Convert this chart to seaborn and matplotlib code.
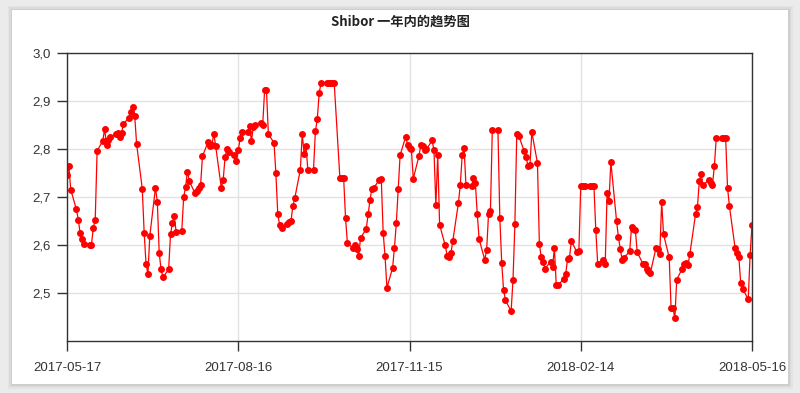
import numpy as np
import pandas as pd
import matplotlib
matplotlib.use("Agg")
import matplotlib.pyplot as plt
import matplotlib.dates as mdates
from matplotlib.ticker import FuncFormatter
from matplotlib.patches import Rectangle
import seaborn as sns

start_date = "2017-05-17"
end_date = "2018-05-16"
x_ticks = ["2017-05-17", "2017-08-16", "2017-11-15", "2018-02-14", "2018-05-16"]
y_ticks = [2.5, 2.6, 2.7, 2.8, 2.9, 3.0]
title = "Shibor 一年内的趋势图"

rates_q2_2017 = [
    2.745, 2.764, 2.715, 2.674, 2.653, 2.624, 2.612, 2.603, 2.601, 2.601,
    2.636, 2.653, 2.796, 2.817, 2.842, 2.808, 2.819, 2.826, 2.831, 2.833,
    2.825, 2.833, 2.853, 2.865, 2.877, 2.888, 2.868, 2.810, 2.717, 2.626,
    2.560, 2.540, 2.619, 2.719, 2.690, 2.583, 2.549, 2.533, 2.549, 2.622,
    2.646, 2.660, 2.627, 2.630,
]
rates_q3_2017 = [
    2.700, 2.721, 2.753, 2.733, 2.708, 2.712, 2.719, 2.726, 2.785, 2.815,
    2.806, 2.808, 2.832, 2.806, 2.719, 2.736, 2.783, 2.801, 2.794, 2.787,
    2.774, 2.797, 2.822, 2.835, 2.835, 2.848, 2.816, 2.846, 2.849, 2.855,
    2.851, 2.922, 2.922, 2.831, 2.813, 2.749, 2.665, 2.641, 2.635, 2.643,
    2.647, 2.649, 2.681, 2.697, 2.757, 2.832, 2.789, 2.806, 2.756, 2.757,
    2.837, 2.862, 2.917,
    2.937, 2.937, 2.937, 2.937, 2.937, 2.937,
]
rates_q4_2017 = [
    2.740, 2.740, 2.740, 2.657, 2.604, 2.594, 2.601,
    2.592, 2.578, 2.615, 2.633, 2.664, 2.693, 2.717, 2.719, 2.736, 2.738,
    2.626, 2.577, 2.511, 2.552, 2.594, 2.646, 2.717, 2.787, 2.826, 2.808,
    2.803, 2.799, 2.738, 2.785, 2.808,
    2.806, 2.797, 2.799, 2.818, 2.797, 2.683, 2.787, 2.642, 2.599, 2.578,
    2.574, 2.583, 2.608, 2.688, 2.726, 2.787, 2.803, 2.724, 2.723, 2.740,
    2.729, 2.665, 2.612, 2.569, 2.590, 2.665, 2.670, 2.839, 2.839, 2.656,
    2.563, 2.506, 2.485, 2.462, 2.528, 2.643, 2.832, 2.828, 2.795, 2.783,
    2.764, 2.766, 2.835, 2.771, 2.603, 2.574, 2.565, 2.551, 2.565, 2.554,
    2.594, 2.516, 2.516, 2.530, 2.540, 2.570, 2.573, 2.608, 2.585, 2.588,
]
rates_2018 = [
    2.723, 2.723, 2.723, 2.723, 2.723, 2.723,
    2.631, 2.561, 2.569, 2.561, 2.708, 2.691, 2.773, 2.651, 2.617, 2.592,
    2.569, 2.573, 2.587, 2.638, 2.634, 2.632, 2.585, 2.561, 2.560,
    2.549, 2.546, 2.542, 2.594, 2.592, 2.581, 2.690, 2.622, 2.574, 2.469,
    2.469, 2.447, 2.528, 2.551, 2.560, 2.563,
    2.558, 2.582, 2.664, 2.679, 2.733, 2.747, 2.724, 2.736, 2.729, 2.726,
    2.764, 2.823, 2.823, 2.823, 2.823, 2.719, 2.681, 2.594, 2.583, 2.575,
    2.521, 2.509, 2.487, 2.580, 2.641,
]

rates = rates_q2_2017 + rates_q3_2017 + rates_q4_2017 + rates_2018
dates = pd.bdate_range(start_date, end_date)
n = min(len(dates), len(rates))
df = pd.DataFrame({"date": dates[:n], "rate": rates[:n]})

sns.set_style("white")
plt.rcParams["font.family"] = ["Liberation Sans", "DejaVu Sans"]

fig = plt.figure(figsize=(8.0, 3.93), dpi=100)
fig.patch.set_facecolor("#ebebeb")
# card with soft shadow
for i, a in enumerate([0.03, 0.04, 0.05]):
    pad = (3 - i) * 1.5
    fig.patches.append(Rectangle(((12 - pad) / 800, (393 - 384 - pad) / 393),
                                 (776 + 2 * pad) / 800, (374 + 2 * pad) / 393,
                                 transform=fig.transFigure, facecolor="black",
                                 alpha=a, edgecolor="none", zorder=0))
fig.patches.append(Rectangle((12 / 800, (393 - 384) / 393), 776 / 800, 374 / 393,
                             transform=fig.transFigure, facecolor="white",
                             edgecolor="none", zorder=1))

ax = fig.add_axes([67 / 800, 1 - 341 / 393, (752 - 67) / 800, (341 - 53) / 393])
ax.set_facecolor("white")
ax.set_zorder(2)

sns.lineplot(data=df, x="date", y="rate", ax=ax, color="#ff0000", linewidth=0.9,
             marker="o", markersize=5, markeredgewidth=0, markerfacecolor="#ff0000")

ax.set_xlim(pd.Timestamp(start_date), pd.Timestamp(end_date))
ax.set_ylim(2.4, 3.0)
ax.set_xticks([pd.Timestamp(t) for t in x_ticks])
ax.xaxis.set_major_formatter(mdates.DateFormatter("%Y-%m-%d"))
ax.set_yticks(y_ticks)
ax.yaxis.set_major_formatter(FuncFormatter(lambda v, p: f"{v:.1f}".replace(".", ",")))

ax.grid(True, color="#e2e2e2", linewidth=1)
ax.set_axisbelow(True)
for s in ax.spines.values():
    s.set_color("#333333")
    s.set_linewidth(1.0)
ax.tick_params(axis="both", which="major", bottom=True, left=True, top=False, right=False,
               direction="out", length=7, width=1, color="#333333",
               labelsize=9.5, labelcolor="#333333", pad=5)
ax.tick_params(axis="x", pad=8)
ax.set_xlabel("")
ax.set_ylabel("")

fig.text(0.5, 1 - 22 / 393, title, ha="center", va="center", fontsize=9.5,
         fontweight="bold", color="#222222",
         family=["Noto Sans CJK SC", "DejaVu Sans"], zorder=3)

fig.savefig("out.png", dpi=100, facecolor=fig.get_facecolor())
